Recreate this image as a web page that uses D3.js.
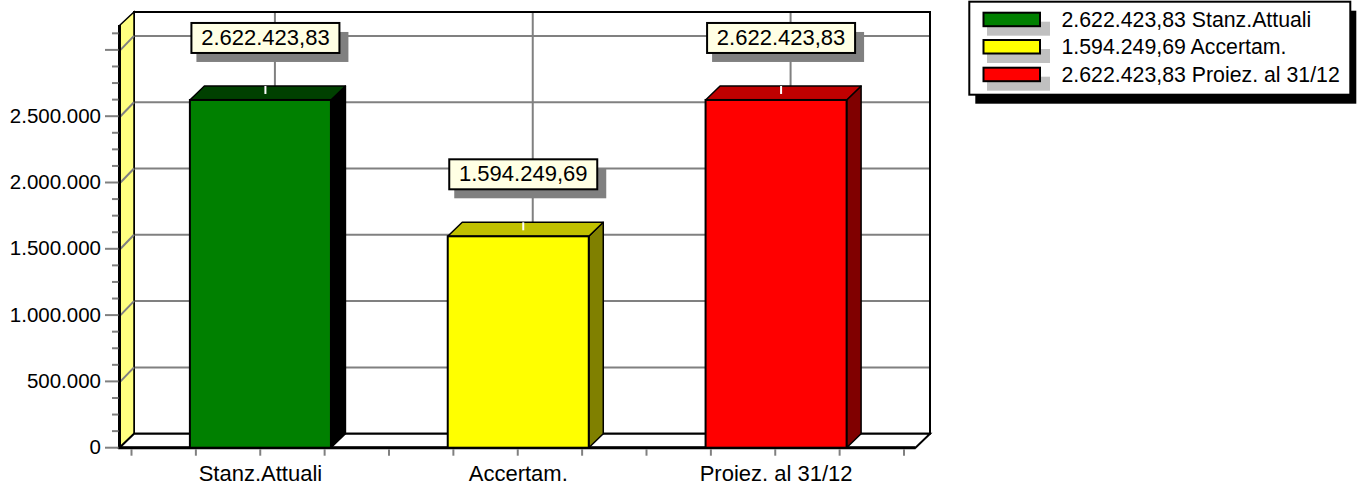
<!DOCTYPE html>
<html><head><meta charset="utf-8">
<script src="https://cdn.jsdelivr.net/npm/d3@7"></script>
<style>
html,body{margin:0;padding:0;background:#fff;}
svg{display:block;font-family:"Liberation Sans",Arial,sans-serif;}
</style></head>
<body>
<svg id="c" width="1361" height="486"></svg>
<script>
const categories = ["Stanz.Attuali", "Accertam.", "Proiez. al 31/12"];
const values = [2622423.83, 1594249.69, 2622423.83];
const frontColors = ["#008000", "#FFFF00", "#FF0000"];
const topColors = ["#004000", "#C0C000", "#C00000"];
const sideColors = ["#000000", "#808000", "#800000"];
const yTickValues = [0, 500000, 1000000, 1500000, 2000000, 2500000, 3000000];
const yTickLabels = ["0", "500.000", "1.000.000", "1.500.000", "2.000.000", "2.500.000", ""];
const yMinorStep = 125000;
const yMax = 3180000;

const loc = d3.formatLocale({decimal: ",", thousands: ".", grouping: [3], currency: ["", "€"]});
const fmt = loc.format(",.2f");

const svg = d3.select("#c");
const DX = 14.5, DY = 14;
const yFront0 = 447.7;
const y = d3.scaleLinear().domain([0, yMax]).range([yFront0, yFront0 - 132.6 * yMax / 1e6]);
const x = d3.scaleBand().domain(categories).range([131.5, 905]).paddingInner(0.453).paddingOuter(0.2265);
const xq = d3.scaleLinear().domain([0, 12]).range([131.5, 904]);

const wallL = 119.5, backBottom = yFront0 - DY, backTop = 12;
const grey = "#808080";

// back wall
svg.append("rect").attr("x", wallL + DX).attr("y", backTop).attr("width", 930 - (wallL + DX)).attr("height", backBottom - backTop)
  .attr("fill", "#fff").attr("stroke", "#000").attr("stroke-width", 2);

// horizontal gridlines on back wall
const gridVals = yTickValues.filter(v => v > 0);
svg.selectAll(".hg").data(gridVals).join("line")
  .attr("x1", wallL + DX).attr("x2", 929).attr("y1", d => y(d) - DY).attr("y2", d => y(d) - DY)
  .attr("stroke", grey).attr("stroke-width", 2);
// vertical gridlines on back wall
svg.selectAll(".vg").data(categories).join("line")
  .attr("x1", d => x(d) + x.bandwidth() / 2 + DX).attr("x2", d => x(d) + x.bandwidth() / 2 + DX)
  .attr("y1", backTop + 1).attr("y2", backBottom)
  .attr("stroke", grey).attr("stroke-width", 2);

// left wall
svg.append("polygon")
  .attr("points", [[wallL, yFront0], [wallL, 25.5], [wallL + DX, backTop], [wallL + DX, backBottom]].map(p => p.join(",")).join(" "))
  .attr("fill", "#FFFF80").attr("stroke", "#000").attr("stroke-width", 1.5);
svg.selectAll(".dg").data(gridVals).join("line")
  .attr("x1", wallL + 1).attr("x2", wallL + DX).attr("y1", d => y(d)).attr("y2", d => y(d) - DY)
  .attr("stroke", grey).attr("stroke-width", 2);
svg.append("line").attr("x1", wallL).attr("x2", wallL).attr("y1", 25).attr("y2", yFront0)
  .attr("stroke", "#000").attr("stroke-width", 3);

// floor
svg.append("polygon")
  .attr("points", [[wallL, yFront0], [wallL + DX, backBottom], [930, backBottom], [930 - DX, yFront0]].map(p => p.join(",")).join(" "))
  .attr("fill", "#fff").attr("stroke", "#000").attr("stroke-width", 2);
svg.append("line").attr("x1", wallL - 1).attr("x2", 930 - DX).attr("y1", yFront0).attr("y2", yFront0)
  .attr("stroke", "#000").attr("stroke-width", 3);

// bars
const bars = svg.selectAll(".bar").data(categories.map((c, i) => ({c, v: values[i], i}))).join("g");
bars.each(function(d) {
  const g = d3.select(this);
  const x0 = x(d.c), x1 = x(d.c) + x.bandwidth(), yt = y(d.v), yb = yFront0;
  g.append("polygon").attr("points", [[x1, yb], [x1, yt], [x1 + DX, yt - DY], [x1 + DX, yb - DY]].map(p => p.join(",")).join(" "))
    .attr("fill", sideColors[d.i]).attr("stroke", "#000").attr("stroke-width", 1.5).attr("stroke-linejoin", "round");
  g.append("polygon").attr("points", [[x0, yt], [x0 + DX, yt - DY], [x1 + DX, yt - DY], [x1, yt]].map(p => p.join(",")).join(" "))
    .attr("fill", topColors[d.i]).attr("stroke", "#000").attr("stroke-width", 1.5).attr("stroke-linejoin", "round");
  g.append("rect").attr("x", x0).attr("y", yt).attr("width", x1 - x0).attr("height", yb - yt)
    .attr("fill", frontColors[d.i]).attr("stroke", "#000").attr("stroke-width", 2);
  // value label
  const cx = x0 + x.bandwidth() / 2 + 5;
  g.append("line").attr("x1", cx).attr("x2", cx).attr("y1", yt - DY).attr("y2", yt - 6)
    .attr("stroke", "#fff").attr("stroke-width", 2);
  const bw = 148, bh = 30, by = yt - 47 - bh, bx = cx - bw / 2;
  g.append("rect").attr("x", bx + 5).attr("y", by + 9).attr("width", bw + 4).attr("height", bh).attr("fill", "#808080");
  g.append("rect").attr("x", bx).attr("y", by).attr("width", bw).attr("height", bh)
    .attr("fill", "#FFFFE4").attr("stroke", "#000").attr("stroke-width", 2);
  g.append("text").attr("x", cx).attr("y", by + 22).attr("text-anchor", "middle")
    .attr("font-size", 22).attr("fill", "#000").text(fmt(d.v));
});

// y axis ticks
const minorVals = d3.range(0, yMax, yMinorStep).filter(v => v % 500000 !== 0);
svg.selectAll(".mt").data(minorVals).join("line")
  .attr("x1", 112).attr("x2", wallL - 1).attr("y1", d => y(d)).attr("y2", d => y(d))
  .attr("stroke", grey).attr("stroke-width", 2);
svg.selectAll(".Mt").data(yTickValues).join("line")
  .attr("x1", 105).attr("x2", wallL - 1).attr("y1", d => y(d)).attr("y2", d => y(d))
  .attr("stroke", grey).attr("stroke-width", 2);
svg.selectAll(".yl").data(yTickValues).join("text")
  .attr("x", 101).attr("y", d => y(d) + 6.5).attr("text-anchor", "end").attr("font-size", 20.5).attr("fill", "#000")
  .text((d, i) => yTickLabels[i]);

// x axis ticks
svg.selectAll(".xt").data(d3.range(0, 13)).join("line")
  .attr("x1", d => xq(d)).attr("x2", d => xq(d)).attr("y1", yFront0 + 1.5).attr("y2", yFront0 + 8)
  .attr("stroke", grey).attr("stroke-width", 2);
svg.selectAll(".xl").data(categories).join("text")
  .attr("x", d => x(d) + x.bandwidth() / 2).attr("y", 480.5).attr("text-anchor", "middle")
  .attr("font-size", 22).attr("fill", "#000").text(d => d);

// legend
const lg = svg.append("g");
lg.append("rect").attr("x", 975.3).attr("y", 10.7).attr("width", 381).attr("height", 93).attr("fill", "#000");
lg.append("rect").attr("x", 969.3).attr("y", 1.7).attr("width", 381).attr("height", 93)
  .attr("fill", "#fff").attr("stroke", "#000").attr("stroke-width", 2);
const rowY = [12.7, 40, 67.7];
categories.forEach((c, i) => {
  lg.append("rect").attr("x", 987).attr("y", rowY[i] + 9).attr("width", 63).attr("height", 14).attr("fill", "#C0C0C0");
  lg.append("rect").attr("x", 983.5).attr("y", rowY[i]).attr("width", 56.5).attr("height", 13.5)
    .attr("fill", frontColors[i]).attr("stroke", "#000").attr("stroke-width", 2);
  lg.append("text").attr("x", 1061.5).attr("y", rowY[i] + 14).attr("font-size", 21.3).attr("fill", "#000")
    .text(fmt(values[i]) + " " + c);
});
</script>
</body></html>
